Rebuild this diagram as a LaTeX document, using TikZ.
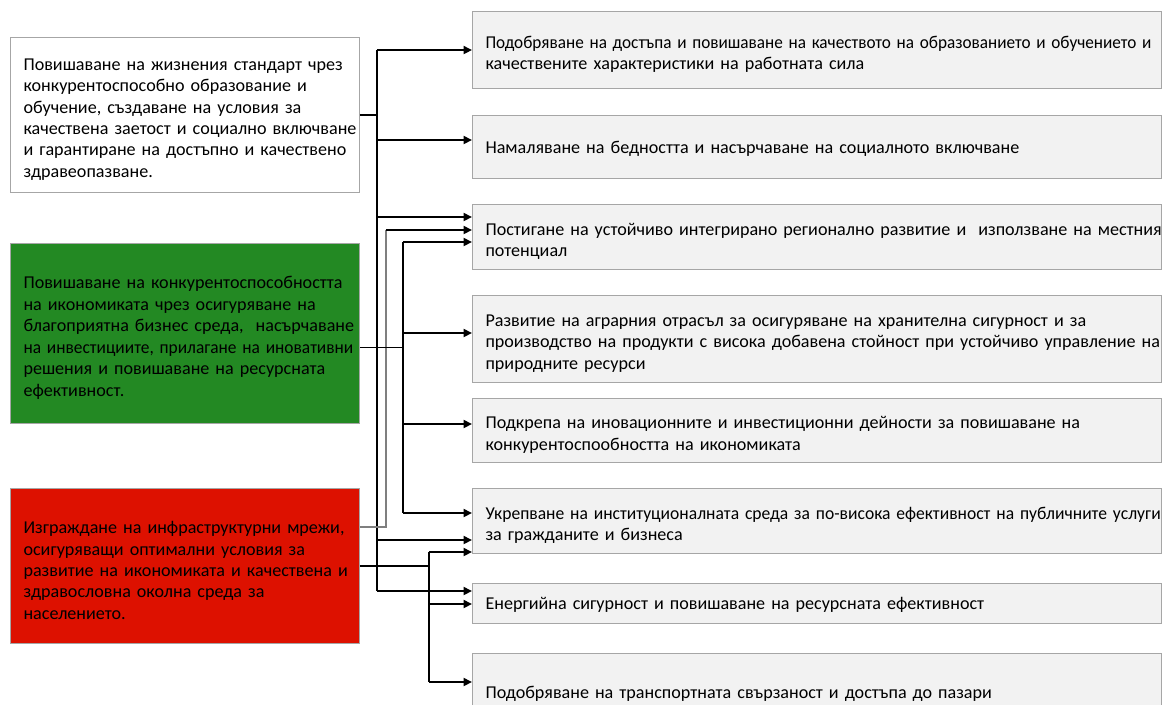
\documentclass[tikz,border=0pt]{standalone}
\usepackage{fontspec}
\usepackage{graphicx}
\setmainfont{Carlito}
\usetikzlibrary{arrows.meta,calc}
\definecolor{boxline}{HTML}{A6A6A6}
\definecolor{goalfill}{HTML}{F2F2F2}
\definecolor{ecogreen}{HTML}{238923}
\definecolor{infrared}{HTML}{DD1100}
\definecolor{busgray}{HTML}{7F7F7F}
\newcommand\sq[2]{\scalebox{#1}[1]{#2}}
\newcommand\at[2]{($(#1.north west)+(0,#2)$)}

\begin{document}
\begin{tikzpicture}[x=0.02cm,y=-0.02cm,
    aim/.style={draw=boxline,line width=0.6pt,anchor=north west,inner sep=0pt,
      text width=6.98cm,align=left,font=\fontsize{10.3}{12.2}\selectfont,
      execute at begin node={\leftskip=0.26cm\rightskip=-0.5cm plus 1fil},
      execute at end node={\endgraf\kern-5pt}},
    goal/.style={aim,fill=goalfill,text width=13.78cm},
    stub/.style={line width=0.6pt},
    arr/.style={line width=1.2pt,-{Triangle[length=0.17cm,width=0.16cm]}}]
\useasboundingbox (0,0) rectangle (1166,704);

\node[aim,minimum height=3.1cm] (W) at (10,37) {Повишаване на жизнения стандарт чрез\\
  конкурентоспособно образование и\\ обучение, създаване на условия за\\
  качествена заетост и социално включване\\ и гарантиране на достъпно и качествено\\
  здравеопазване.};
\node[aim,fill=ecogreen,minimum height=3.6cm] (G) at (10,243) {Повишаване на конкурентоспособността\\
  на икономиката чрез осигуряване на\\ благоприятна бизнес среда,~ насърчаване\\
  \sq{0.96}{на инвестициите, прилагане на иновативни}\\ решения и повишаване на ресурсната\\
  ефективност.};
\node[aim,fill=infrared,minimum height=3.1cm] (Rd) at (10,488) {Изграждане на инфраструктурни мрежи,\\
  осигуряващи оптимални условия за\\ развитие на икономиката и качествена и\\
  здравословна околна среда за\\ населението.};

\node[goal,minimum height=1.54cm] (R1) at (472,11) {\sq{0.95}{Подобряване на достъпа и повишаване на качеството на образованието и обучението и}\\
  качествените характеристики на работната сила};
\node[goal,minimum height=1.26cm] (R2) at (472,115) {Намаляване на бедността и насърчаване на социалното включване};
\node[goal,minimum height=1.30cm] (R3) at (472,204) {Постигане на устойчиво интегрирано регионално развитие и~ използване на местния\\
  потенциал};
\node[goal,minimum height=1.74cm] (R4) at (472,295) {Развитие на аграрния отрасъл за осигуряване на хранителна сигурност и за\\
  производство на продукти с висока добавена стойност при устойчиво управление на\\
  природните ресурси};
\node[goal,minimum height=1.28cm] (R5) at (472,398) {Подкрепа на иновационните и инвестиционни дейности за повишаване на\\
  конкурентоспообността на икономиката};
\node[goal,minimum height=1.30cm] (R6) at (472,488) {\sq{0.97}{Укрепване на институционалната среда за по-висока ефективност на публичните услуги}\\
  за гражданите и бизнеса};
\node[goal,minimum height=0.80cm] (R7) at (472,583) {Енергийна сигурност и повишаване на ресурсната ефективност};
\node[goal,minimum height=1.56cm] (R8) at (472,653) {Подобряване на транспортната свързаност и достъпа до пазари};

\draw[stub] (W.east) -- ++(17,0) coordinate (busA);
\draw[stub] (busA |- R1.west) -- (busA |- 0,591);
\draw[arr] (busA |- R1.west) -- (R1.west);
\draw[arr] (busA |- 0,140) -- \at{R2}{25};
\draw[arr] (busA |- 0,217) -- \at{R3}{13};
\draw[arr] (busA |- 0,540) -- \at{R6}{52};
\draw[arr] (busA |- 0,591) -- \at{R7}{8};

\draw[stub,busgray] ($(Rd.north east)+(0,39)$) -- ++(26,0) coordinate (busB) -- (busB |- 0,230);
\draw[arr] (busB |- 0,230) -- \at{R3}{26};

\draw[stub] ($(G.east)+(0,14)$) -- ++(43,0) coordinate (busC);
\draw[stub] (busC |- 0,242) -- (busC |- 0,513);
\draw[arr] (busC |- 0,242) -- \at{R3}{38};
\draw[arr] (busC |- 0,333) -- \at{R4}{38};
\draw[arr] (busC |- 0,424) -- \at{R5}{26};
\draw[arr] (busC |- 0,513) -- \at{R6}{25};

\draw[stub] (Rd.east) -- ++(69,0) coordinate (busD);
\draw[stub] (busD |- 0,552) -- (busD |- 0,682);
\draw[arr] (busD |- 0,552) -- \at{R6}{64};
\draw[arr] (busD |- 0,604) -- \at{R7}{21};
\draw[arr] (busD |- 0,682) -- \at{R8}{29};
\end{tikzpicture}
\end{document}
